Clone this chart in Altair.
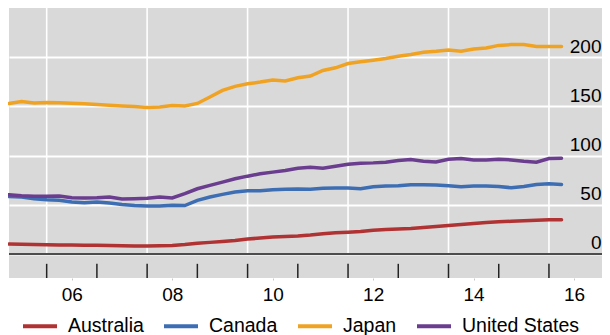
import altair as alt
import pandas as pd

FONT = "Liberation Sans"

countries = ["Australia", "Canada", "Japan", "United States"]
colors = ["#B03232", "#3D6EB4", "#F0A323", "#6A3D8F"]

# quarterly, 2005 Q2 (2005.25) to 2016 Q2 (2016.25)
quarters = [2005.25 + 0.25 * i for i in range(45)]

australia = [10.1, 9.9, 9.6, 9.3, 9.2, 9.1, 9.0, 8.8, 8.6, 8.4, 8.2, 8.1, 8.3, 8.7, 9.6,
             10.8, 11.8, 12.8, 13.8, 15.2, 16.2, 17.2, 17.8, 18.2, 19.2, 20.5, 21.5, 22.2,
             22.9, 24.2, 24.9, 25.3, 25.9, 26.9, 27.9, 29.0, 30.0, 31.0, 32.0, 32.7, 33.3,
             33.7, 34.3, 34.7, 34.7]
canada = [58.5, 57.9, 56.2, 55.2, 54.5, 52.9, 52.2, 52.9, 51.9, 50.2, 49.2, 48.8, 48.8, 49.5,
          49.2, 54.5, 57.9, 60.6, 63.0, 64.3, 64.3, 65.3, 65.7, 66.0, 65.7, 66.7, 67.0, 67.0,
          66.3, 68.4, 69.0, 69.4, 70.4, 70.4, 70.0, 69.4, 68.4, 69.0, 69.0, 68.7, 67.3, 68.7,
          70.7, 71.4, 70.7]
japan = [153.0, 155.0, 153.5, 154.0, 153.8, 153.3, 152.8, 152.0, 151.2, 150.5, 149.8, 149.0,
         149.5, 151.0, 150.5, 153.0, 159.6, 166.3, 170.4, 173.0, 174.7, 176.8, 175.8, 179.1,
         180.8, 186.5, 189.2, 193.6, 195.3, 197.0, 198.7, 201.0, 202.7, 205.0, 206.0, 207.4,
         206.0, 208.4, 209.4, 212.0, 212.8, 212.8, 210.8, 210.8, 210.8]
united_states = [60.3, 59.3, 58.6, 58.6, 58.9, 57.2, 56.9, 57.2, 57.9, 55.9, 56.2, 56.6, 57.9,
                 56.9, 61.3, 66.3, 69.7, 73.0, 76.4, 79.1, 81.5, 83.2, 84.8, 87.2, 88.2, 87.2,
                 89.2, 91.2, 92.3, 92.6, 93.3, 95.0, 96.0, 94.3, 93.6, 96.3, 97.0, 95.6, 95.6,
                 96.3, 95.6, 94.3, 93.3, 97.0, 97.3]

grid_years = [2006, 2008, 2010, 2012, 2014, 2016]
tick_years = list(range(2006, 2017))
label_years = [2006.5, 2008.5, 2010.5, 2012.5, 2014.5, 2016.5]
y_ticks = [0, 50, 100, 150, 200]

series = {"Australia": australia, "Canada": canada, "Japan": japan,
          "United States": united_states}
rows = []
for c in countries:
    for t, v in zip(quarters, series[c]):
        rows.append({"t": t, "v": v, "country": c})
df = pd.DataFrame(rows)

x_scale = alt.Scale(domain=[2005.25, 2017.056], nice=False, zero=False)
y_scale = alt.Scale(domain=[-24.4, 250], nice=False, zero=False)

x_axis = alt.Axis(
    values=label_years,
    labelExpr="substring(toString(floor(datum.value)), 2)",
    grid=False,
    domain=False,
    tickSize=2,
    tickColor="#c8c8c8",
    labelPadding=5,
    labelFontSize=19,
    labelFont=FONT,
    labelColor="black",
    labelOverlap=False,
    title=None,
)
y_axis = alt.Axis(
    orient="right",
    values=y_ticks,
    grid=True,
    gridColor="white",
    gridWidth=2,
    domain=False,
    ticks=False,
    tickSize=0,
    labelAlign="right",
    labelBaseline="alphabetic",
    labelOffset=-5,
    labelPadding=-1,
    labelFontSize=19,
    labelFont=FONT,
    labelColor="black",
    title=None,
)

vgrid = alt.Chart(pd.DataFrame({"t": grid_years, "lo": [0] * 6, "hi": [250] * 6})).mark_rule(
    color="white", strokeWidth=1.6
).encode(
    x=alt.X("t:Q", scale=x_scale, axis=x_axis),
    y=alt.Y("lo:Q", scale=y_scale, axis=y_axis),
    y2="hi:Q",
)

ticks = alt.Chart(pd.DataFrame({"t": tick_years, "lo": [-24.4] * 11, "hi": [-10] * 11})).mark_rule(
    color="#222222", strokeWidth=1.5
).encode(
    x=alt.X("t:Q", scale=x_scale, axis=x_axis),
    y=alt.Y("lo:Q", scale=y_scale, axis=y_axis),
    y2="hi:Q",
)

zero = alt.Chart(pd.DataFrame({"v": [0]})).mark_rule(
    color="#4d4d4d", strokeWidth=2
).encode(y=alt.Y("v:Q", scale=y_scale, axis=y_axis))

lines = alt.Chart(df).mark_line(strokeWidth=3.5, strokeCap="round").encode(
    x=alt.X("t:Q", scale=x_scale, axis=x_axis),
    y=alt.Y("v:Q", scale=y_scale, axis=y_axis),
    color=alt.Color(
        "country:N",
        scale=alt.Scale(domain=countries, range=colors),
        legend=alt.Legend(
            orient="none",
            legendX=12,
            legendY=299,
            direction="horizontal",
            symbolType="stroke",
            symbolSize=1156,
            symbolStrokeWidth=4,
            labelFontSize=19.5,
            labelFont=FONT,
            labelColor="black",
            columnPadding=12,
            labelOffset=9,
            padding=0,
            title=None,
        ),
    ),
    order=alt.Order("t:Q"),
)

chart = alt.layer(vgrid, ticks, zero, lines).properties(
    width=593,
    height=270,
    autosize=alt.AutoSizeParams(type="none"),
    padding={"left": 1, "top": 0, "right": 0, "bottom": 57},
).configure_view(fill="#d9d9d9", strokeWidth=0)

chart.save("out.html", embed_options={"renderer": "svg", "actions": False})
